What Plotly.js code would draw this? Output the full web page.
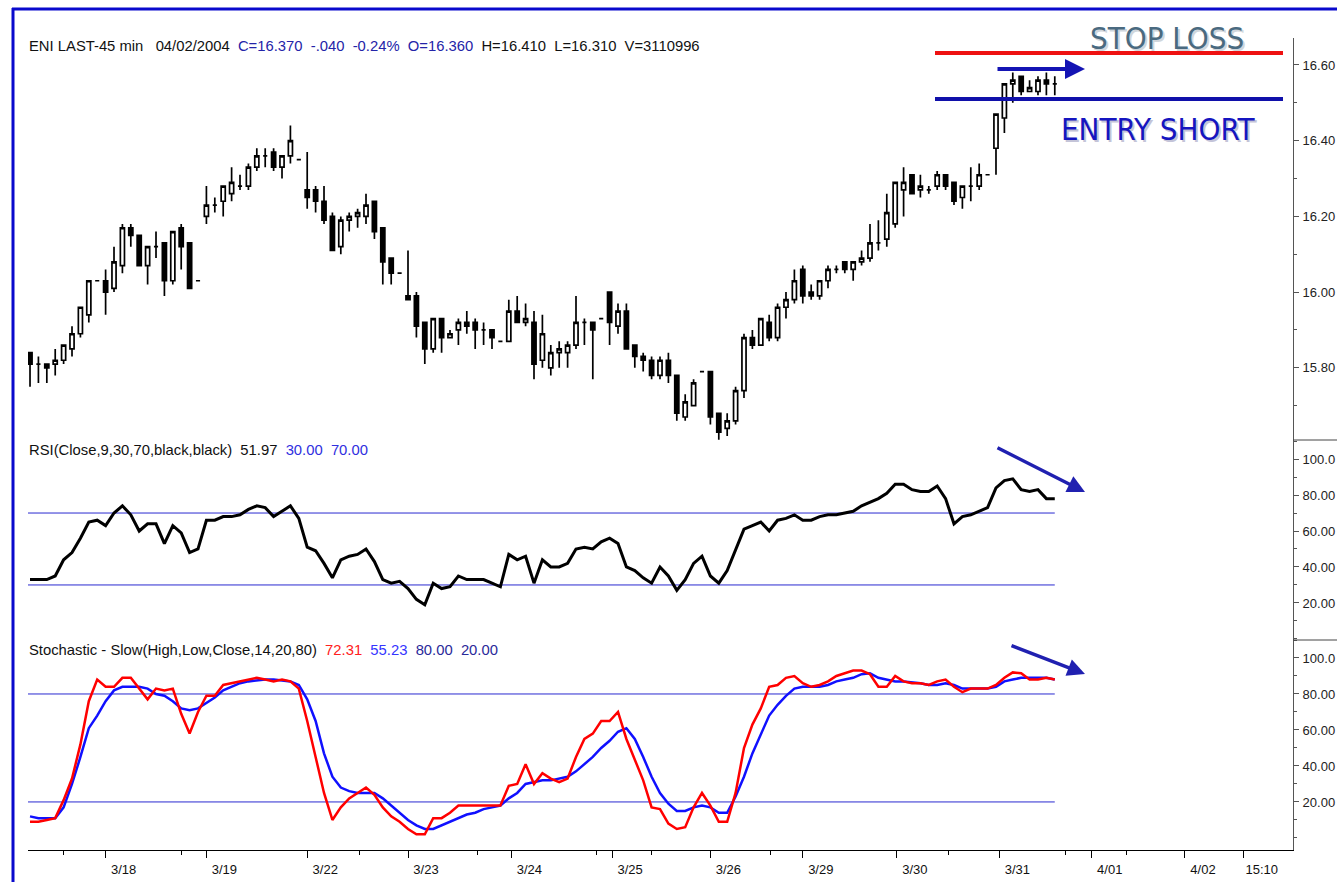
<!DOCTYPE html>
<html><head><meta charset="utf-8">
<script src="https://cdn.plot.ly/plotly-3.0.1.min.js"></script>
<style>html,body{margin:0;padding:0;background:#fff;overflow:hidden}#chart{width:1337px;height:882px}</style>
</head><body><div id="chart"></div>
<script>
// ---- 45-minute bars, ENI, 3/17 .. 3/31 2004 ----
const OPEN = [15.84,15.81,15.81,15.81,15.82,15.85,15.89,15.94,16.03,16.03,
16.01,16.07,16.17,16.15,16.07,16.12,16.13,16.03,16.17,16.13,
16.03,16.20,16.23,16.24,16.26,16.28,16.28,16.33,16.36,16.37,
16.33,16.36,16.35,16.27,16.27,16.24,16.20,16.12,16.19,16.20,
16.20,16.24,16.17,16.09,16.05,15.99,15.99,15.92,15.85,15.93,
15.88,15.90,15.92,15.92,15.90,15.90,15.87,15.87,15.95,15.92,
15.92,15.82,15.80,15.84,15.84,15.86,15.92,15.92,15.93,16.00,
15.91,15.95,15.86,15.83,15.82,15.78,15.82,15.78,15.67,15.70,
15.79,15.79,15.68,15.64,15.66,15.74,15.88,15.86,15.92,15.88,
15.96,15.98,16.06,16.00,15.99,16.03,16.06,16.08,16.06,16.08,
16.09,16.13,16.14,16.18,16.27,16.31,16.27,16.27,16.28,16.31,
16.29,16.25,16.28,16.28,16.31,16.38,16.46,16.55,16.57,16.53,
16.53,16.56,16.55];
const HIGH = [15.84,15.83,15.81,15.85,15.86,15.91,15.96,16.03,16.03,16.06,
16.12,16.18,16.18,16.15,16.12,16.16,16.13,16.16,16.18,16.13,
16.03,16.28,16.25,16.28,16.33,16.31,16.34,16.38,16.38,16.38,
16.36,16.44,16.35,16.37,16.28,16.28,16.21,16.20,16.21,16.22,
16.26,16.24,16.17,16.09,16.05,16.11,16.00,15.92,15.93,15.93,
15.90,15.93,15.95,15.93,15.92,15.90,15.87,15.98,15.99,15.97,
15.95,15.94,15.86,15.87,15.87,15.99,15.93,15.92,15.93,16.00,
15.97,15.97,15.86,15.84,15.83,15.83,15.84,15.78,15.73,15.77,
15.79,15.79,15.68,15.68,15.75,15.89,15.90,15.93,15.94,15.97,
16.00,16.06,16.07,16.02,16.03,16.07,16.07,16.08,16.08,16.11,
16.18,16.19,16.26,16.29,16.33,16.31,16.31,16.28,16.32,16.31,
16.29,16.28,16.33,16.34,16.31,16.47,16.55,16.58,16.57,16.56,
16.57,16.58,16.57];
const LOW = [15.75,15.76,15.76,15.78,15.81,15.83,15.88,15.92,16.03,15.94,
16.00,16.05,16.12,16.07,16.02,16.09,15.99,16.02,16.06,16.01,
16.03,16.18,16.21,16.20,16.24,16.27,16.27,16.32,16.33,16.32,
16.30,16.34,16.35,16.22,16.21,16.18,16.11,16.10,16.16,16.17,
16.18,16.14,16.02,16.02,16.05,15.98,15.88,15.81,15.84,15.84,
15.88,15.86,15.89,15.85,15.86,15.85,15.87,15.87,15.92,15.91,
15.77,15.80,15.78,15.80,15.80,15.85,15.86,15.77,15.93,15.86,
15.89,15.85,15.80,15.79,15.77,15.77,15.76,15.66,15.66,15.70,
15.79,15.65,15.61,15.62,15.65,15.72,15.85,15.86,15.87,15.87,
15.93,15.97,15.97,15.98,15.98,16.01,16.05,16.05,16.03,16.07,
16.08,16.11,16.12,16.17,16.20,16.26,16.25,16.26,16.27,16.27,
16.23,16.22,16.24,16.27,16.31,16.31,16.42,16.50,16.52,16.53,
16.52,16.52,16.52];
const CLOSE = [15.81,15.81,15.80,15.82,15.86,15.89,15.96,16.03,16.03,16.00,
16.08,16.17,16.15,16.07,16.12,16.12,16.03,16.16,16.12,16.01,
16.03,16.23,16.23,16.28,16.29,16.28,16.33,16.36,16.36,16.33,
16.36,16.40,16.35,16.25,16.24,16.19,16.11,16.19,16.20,16.21,
16.23,16.16,16.08,16.05,16.05,15.98,15.91,15.85,15.93,15.88,
15.89,15.92,15.91,15.90,15.90,15.88,15.87,15.95,15.92,15.93,
15.81,15.89,15.84,15.85,15.86,15.92,15.92,15.90,15.93,15.92,
15.95,15.85,15.83,15.82,15.78,15.82,15.78,15.68,15.71,15.76,
15.79,15.67,15.63,15.66,15.74,15.88,15.86,15.93,15.88,15.96,
15.98,16.03,15.99,15.99,16.03,16.06,16.06,16.06,16.08,16.09,
16.13,16.13,16.21,16.29,16.29,16.26,16.28,16.27,16.31,16.28,
16.24,16.28,16.28,16.31,16.31,16.47,16.55,16.56,16.53,16.54,
16.56,16.55,16.55];

const RSI = [33,33,33,35,44,48,56,65,66,63,
70,74,69,60,64,64,53,63,59,48,
50,66,66,68,68,69,72,74,73,68,
71,74,67,51,49,42,34,44,46,47,
50,43,33,31,32,28,22,19,31,28,
29,35,33,33,33,31,29,47,44,46,
31,44,40,40,42,50,51,50,54,56,
53,40,38,34,31,40,35,27,33,42,
46,35,31,38,50,61,63,65,60,66,
67,69,66,66,68,69,69,70,71,74,
76,78,81,86,86,83,82,82,85,78,
64,68,69,71,73,84,88,89,83,82,
83,78,78];

const STOCH_K = [9,9,10,11,
21,33,52,76,88,84,84,89,89,83,
77,83,82,83,69,58,70,79,79,85,
86,87,88,89,88,87,88,87,83,65,
45,25,10,17,22,25,28,24,17,12,
9,5,2,2,11,11,14,18,18,18,
18,18,18,29,30,41,30,36,33,31,
33,45,55,58,65,65,70,55,44,32,
17,16,8,5,6,17,25,18,9,9,
25,50,63,72,84,85,89,90,86,84,
85,87,90,91.5,93,93,91,84,84,90,
87,86,86,85,87,88,84,81,83,83,
83,85,89,92,91.5,88,88,89,88];
const STOCH_D = [12,11,11,11,
17,30,45,61,68,76,82,84,84,84,
83,80,79,76,72,71,72,75,78,82,
84,86,87,87.5,88,88,87.5,87,85,77,
65,47,34,28,26,25,25,25,22,18,
14,10,7,5,5,7,9,11,13,14,
16,17,18,22,25,30,31,32,32,33,
34,37,41,45,50,54,59,61,55,45,
34,25,19,15,15,17,18,17,14,14,
23,34,47,58,68,74,79,83,84,84,
84,85,87,88,89,91,91.5,89,88,87,
87,86.5,86,85,85,86,85,83,83,83,
83,84,87,88,89,89,89,89,88];

const DAY_TICKS  = [9, 21, 33, 45, 57.3, 69.3, 81, 92, 103.2, 115.4, 126.4, 137.5, 144.5];
const DAY_LABELS = ['3/18','3/19','3/22','3/23','3/24','3/25','3/26','3/29','3/30','3/31','4/01','4/02','15:10'];
const MINOR_TICKS = [4, 18, 39.2, 53.3, 67.4, 74, 88.1, 109.4, 123.3, 130.5];
const PRICE_TICKS = [15.80, 16.00, 16.20, 16.40, 16.60];
const OSC_TICKS = [20, 40, 60, 80, 100];
const OSC_LABELS = ['20.00', '40.00', '60.00', '80.00', '100.0'];
const RSI_LEVELS = [30, 70];
const STOCH_LEVELS = [20, 80];
const STOP_LOSS = 16.632;
const ENTRY_SHORT = 16.51;

// ---- geometry helpers (pixel -> paper) ----
const W = 1337, H = 882, ML = 28, MR = 44, MT = 38, MB = 32;
const PW = W - ML - MR, PH = H - MT - MB;
const px = p => (p - ML) / PW;
const py = p => (H - MB - p) / PH;

const BAR = OPEN.map((_, i) => i);
const XR = [-0.24, 150.36];
const FONT = 'Liberation Sans, Arial, sans-serif';
const BIG = 'DejaVu Sans Condensed, DejaVu Sans';

const traces = [
  { type: 'candlestick', x: BAR, open: OPEN, high: HIGH, low: LOW, close: CLOSE,
    xaxis: 'x', yaxis: 'y', whiskerwidth: 0, hoverinfo: 'skip',
    increasing: { line: { color: '#000', width: 1.7 }, fillcolor: '#ffffff' },
    decreasing: { line: { color: '#000', width: 1.7 }, fillcolor: '#000000' } },
  ...RSI_LEVELS.map(v => ({ type: 'scatter', mode: 'lines', x: [XR[0], BAR[BAR.length - 1]], y: [v, v],
    xaxis: 'x', yaxis: 'y2', line: { color: '#2a2ad0', width: 1 }, hoverinfo: 'skip' })),
  { type: 'scatter', mode: 'lines', x: BAR, y: RSI, xaxis: 'x', yaxis: 'y2',
    line: { color: '#000', width: 3 }, hoverinfo: 'skip' },
  ...STOCH_LEVELS.map(v => ({ type: 'scatter', mode: 'lines', x: [XR[0], BAR[BAR.length - 1]], y: [v, v],
    xaxis: 'x', yaxis: 'y3', line: { color: '#2a2ad0', width: 1 }, hoverinfo: 'skip' })),
  { type: 'scatter', mode: 'lines', x: BAR, y: STOCH_D, xaxis: 'x', yaxis: 'y3',
    line: { color: '#1010ff', width: 2.5 }, hoverinfo: 'skip' },
  { type: 'scatter', mode: 'lines', x: BAR, y: STOCH_K, xaxis: 'x', yaxis: 'y3',
    line: { color: '#ff0000', width: 2.5 }, hoverinfo: 'skip' }
];

const yCommon = {
  side: 'right', anchor: 'x', showline: true, linecolor: '#555', linewidth: 1,
  ticks: 'outside', ticklen: 5, tickcolor: '#555', showgrid: false, zeroline: false,
  ticklabelstandoff: 1,
  tickfont: { family: FONT, size: 13, color: '#222' }, tickformat: '.2f', fixedrange: true
};

const dPrice = [py(440), 1], dRsi = [py(640), py(440)], dSto = [0, py(640)];

const layout = {
  width: W, height: H, margin: { l: ML, r: MR, t: MT, b: MB, pad: 0 },
  paper_bgcolor: '#ffffff', plot_bgcolor: '#ffffff', showlegend: false,
  xaxis: {
    domain: [0, 1], range: XR, anchor: 'y3', showline: true, linecolor: '#000', linewidth: 1,
    ticks: 'outside', ticklen: 7, tickcolor: '#000', tickmode: 'array',
    tickvals: DAY_TICKS, ticktext: DAY_LABELS, ticklabelshift: 18,
    tickfont: { family: FONT, size: 13, color: '#111' },
    minor: { tickmode: 'array', tickvals: MINOR_TICKS, ticks: 'outside', ticklen: 4, tickcolor: '#000' },
    showgrid: false, zeroline: false, rangeslider: { visible: false }, fixedrange: true
  },
  yaxis: Object.assign({}, yCommon, {
    domain: dPrice, range: [15.6093, 16.6713], tickmode: 'array', tickvals: PRICE_TICKS,
    minor: { dtick: 0.1, ticks: 'outside', ticklen: 3, tickcolor: '#555' } }),
  yaxis2: Object.assign({}, yCommon, {
    domain: dRsi, range: [-0.6, 110.6], tickmode: 'array', tickvals: OSC_TICKS, ticktext: OSC_LABELS,
    minor: { dtick: 10, ticks: 'outside', ticklen: 3, tickcolor: '#555' } }),
  yaxis3: Object.assign({}, yCommon, {
    domain: dSto, range: [-6.7, 110], tickmode: 'array', tickvals: OSC_TICKS, ticktext: OSC_LABELS,
    minor: { dtick: 10, ticks: 'outside', ticklen: 3, tickcolor: '#555' } }),
  shapes: [
    { type: 'line', xref: 'paper', yref: 'paper', x0: px(13), x1: px(13), y0: py(8), y1: py(890), line: { color: '#0a0acd', width: 3 } },
    { type: 'line', xref: 'paper', yref: 'paper', x0: px(12), x1: px(1345), y0: py(9), y1: py(9), line: { color: '#0a0acd', width: 3 } },
    { type: 'line', xref: 'paper', yref: 'paper', x0: 1, x1: 1.05, y0: py(440), y1: py(440), line: { color: '#444', width: 1 } },
    { type: 'line', xref: 'paper', yref: 'paper', x0: 1, x1: 1.05, y0: py(640), y1: py(640), line: { color: '#444', width: 1 } },
    { type: 'line', xref: 'paper', yref: 'y', x0: px(935), x1: px(1283), y0: STOP_LOSS, y1: STOP_LOSS, line: { color: '#ee1111', width: 4 } },
    { type: 'line', xref: 'paper', yref: 'y', x0: px(935), x1: px(1283), y0: ENTRY_SHORT, y1: ENTRY_SHORT, line: { color: '#1010aa', width: 4 } }
  ],
  annotations: [
    { xref: 'paper', yref: 'paper', x: 0, y: py(46), xanchor: 'left', yanchor: 'middle', showarrow: false, borderpad: 0,
      font: { family: FONT, size: 14.8, color: '#111' },
      text: 'ENI LAST-45 min\u00a0\u00a0\u00a004/02/2004\u00a0\u00a0<span style="color:#2424a8">C=16.370\u00a0\u00a0-.040\u00a0\u00a0-0.24%\u00a0\u00a0O=16.360</span>\u00a0\u00a0H=16.410\u00a0\u00a0L=16.310\u00a0\u00a0V=3110996' },
    { xref: 'paper', yref: 'paper', x: 0, y: py(450), xanchor: 'left', yanchor: 'middle', showarrow: false, borderpad: 0,
      font: { family: FONT, size: 14.8, color: '#111' },
      text: 'RSI(Close,9,30,70,black,black)\u00a0\u00a051.97\u00a0\u00a0<span style="color:#3030e0">30.00\u00a0\u00a070.00</span>' },
    { xref: 'paper', yref: 'paper', x: 0, y: py(650), xanchor: 'left', yanchor: 'middle', showarrow: false, borderpad: 0,
      font: { family: FONT, size: 14.8, color: '#111' },
      text: 'Stochastic - Slow(High,Low,Close,14,20,80)\u00a0\u00a0<span style="color:#ff2020">72.31</span>\u00a0\u00a0<span style="color:#3535ff">55.23</span>\u00a0\u00a0<span style="color:#2a2a9a">80.00\u00a0\u00a020.00</span>' },
    { xref: 'paper', yref: 'paper', x: px(1167), y: py(38), xanchor: 'center', yanchor: 'middle', xshift: 2, yshift: -2, showarrow: false,
      font: { family: BIG, size: 31, color: '#d0d6dc' }, text: 'STOP LOSS' },
    { xref: 'paper', yref: 'paper', x: px(1167), y: py(38), xanchor: 'center', yanchor: 'middle', showarrow: false,
      font: { family: BIG, size: 31, color: '#4a6a80' }, text: 'STOP LOSS' },
    { xref: 'paper', yref: 'paper', x: px(1158), y: py(129), xanchor: 'center', yanchor: 'middle', xshift: 2, yshift: -2, showarrow: false,
      font: { family: BIG, size: 31, color: '#c4c4d8' }, text: 'ENTRY SHORT' },
    { xref: 'paper', yref: 'paper', x: px(1158), y: py(129), xanchor: 'center', yanchor: 'middle', showarrow: false,
      font: { family: BIG, size: 31, color: '#1515c0' }, text: 'ENTRY SHORT' },
    { xref: 'paper', yref: 'paper', x: px(1085), y: py(69), ax: -89, ay: 0, text: '', showarrow: true,
      arrowhead: 2, arrowsize: 1, arrowwidth: 4, arrowcolor: '#1414b4' },
    { xref: 'paper', yref: 'paper', x: px(1085), y: py(492), ax: -89, ay: -45, text: '', showarrow: true,
      arrowhead: 2, arrowsize: 1, arrowwidth: 3.5, arrowcolor: '#2020b0' },
    { xref: 'paper', yref: 'paper', x: px(1085), y: py(674), ax: -75, ay: -29, text: '', showarrow: true,
      arrowhead: 2, arrowsize: 1, arrowwidth: 3.5, arrowcolor: '#2020b0' }
  ]
};

Plotly.newPlot('chart', traces, layout, { staticPlot: true, displayModeBar: false });
</script>
</body></html>
